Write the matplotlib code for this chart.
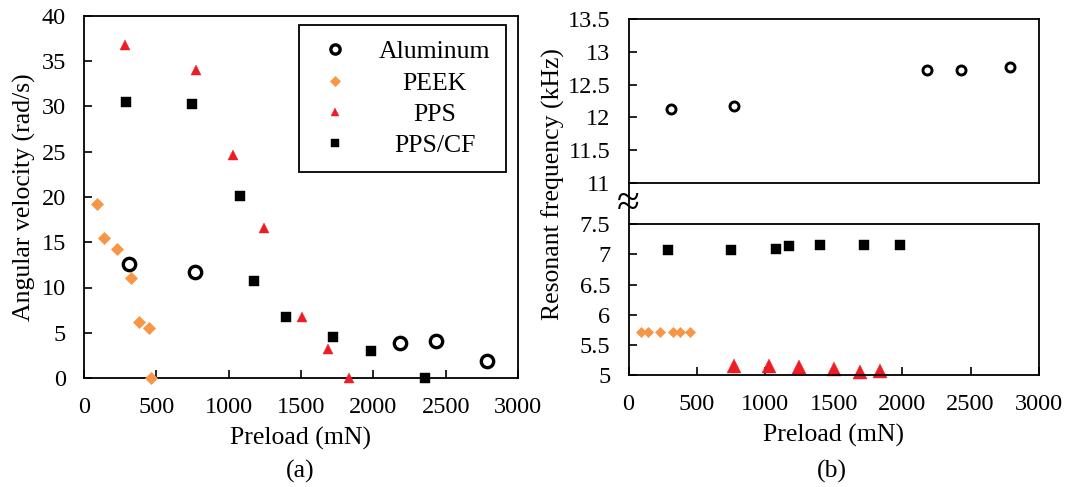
import matplotlib
matplotlib.use("Agg")
from matplotlib import pyplot as plt
from matplotlib.lines import Line2D
from matplotlib.ticker import FuncFormatter

al_preload = [310, 770, 2185, 2432, 2785]
al_velocity = [12.6, 11.7, 3.9, 4.05, 1.9]
al_freq = [12.13, 12.18, 12.72, 12.72, 12.77]

peek_preload = [90, 140, 228, 322, 380, 448, 463]
peek_velocity = [19.2, 15.5, 14.3, 11.0, 6.2, 5.5, 0.0]
peek_freq = [5.71, 5.71, 5.71, 5.72, 5.72, 5.72]  # first 6 preloads

pps_preload = [283, 774, 1029, 1246, 1505, 1690, 1835]
pps_velocity = [36.8, 34.0, 24.6, 16.6, 6.7, 3.2, 0.0]
pps_freq = [5.155, 5.155, 5.135, 5.10, 5.055, 5.06]  # last 6 preloads

ppscf_preload = [292, 747, 1078, 1172, 1397, 1722, 1983, 2357]
ppscf_velocity = [30.5, 30.3, 20.1, 10.7, 6.7, 4.5, 3.0, 0.0]
ppscf_freq = [7.07, 7.07, 7.09, 7.14, 7.16, 7.16, 7.16]  # first 7 preloads

ORANGE = "#F79646"
RED = "#EE1C25"

plt.rcParams["font.family"] = ["Liberation Serif", "DejaVu Serif"]
plt.rcParams["axes.linewidth"] = 1.3

W, H = 1070, 487
fig = plt.figure(figsize=(W / 100, H / 100), dpi=100)


def box(l, t, r, b):
    return [l / W, 1 - b / H, (r - l) / W, (b - t) / H]


axL = fig.add_axes(box(84, 16, 518, 378))
axT = fig.add_axes(box(628.5, 19, 1039, 183))
axB = fig.add_axes(box(628.5, 224.3, 1039, 375))

tick_kw = dict(direction="in", length=6, width=1.2, labelsize=17.5)

# ---- (a) angular velocity ----
axL.plot(al_preload, al_velocity, "o", ms=8.9, mew=2.4, mfc="none", mec="black",
         label="Aluminum", clip_on=False, zorder=4)
axL.plot(peek_preload, peek_velocity, "D", ms=6.4, mew=0.5, color=ORANGE,
         label="PEEK", clip_on=False, zorder=3)
axL.plot(pps_preload, pps_velocity, "^", ms=7.4, mew=0.3, color=RED,
         label="PPS", clip_on=False, zorder=3)
axL.plot(ppscf_preload, ppscf_velocity, "s", ms=7.4, mew=0.3, color="black",
         label="PPS/CF", clip_on=False, zorder=3)

axL.set_xlim(0, 3000)
axL.set_ylim(0, 40)
axL.set_xticks(range(0, 3001, 500))
axL.set_yticks(range(0, 41, 5))
axL.tick_params(**tick_kw)
axL.tick_params(axis="x", pad=14)
axL.tick_params(axis="y", pad=13)
axL.set_xlabel("Preload (mN)", fontsize=18.5, labelpad=6)
axL.set_ylabel("Angular velocity (rad/s)", fontsize=18.5, labelpad=4)

leg = axL.legend(loc="upper right", bbox_to_anchor=(0.972, 0.975), borderaxespad=0,
                 fontsize=18.5, markerscale=0.75, handlelength=1.6, handletextpad=0.9,
                 labelspacing=0.32, borderpad=0.6, fancybox=False, edgecolor="black",
                 framealpha=1)
leg.get_frame().set_linewidth(1.3)

# ---- (b) resonant frequency, broken y axis ----
axT.plot(al_preload, al_freq, "o", ms=6.5, mew=2.1, mfc="none", mec="black")
axT.set_xlim(0, 3000)
axT.set_ylim(11, 13.5)
axT.set_yticks([11, 11.5, 12, 12.5, 13, 13.5])
axT.set_xticks([])
axT.tick_params(**tick_kw)
axT.tick_params(axis="y", pad=13)

axB.plot(ppscf_preload[:7], ppscf_freq, "s", ms=7.9, mew=0.3, color="black", clip_on=False)
axB.plot(peek_preload[:6], peek_freq, "D", ms=5.2, mew=0.5, color=ORANGE, clip_on=False)
axB.plot(pps_preload[1:], pps_freq, "^", ms=9.6, mew=0.3, color=RED, clip_on=False)
axB.set_xlim(0, 3000)
axB.set_ylim(5, 7.5)
axB.set_xticks(range(0, 3001, 500))
axB.set_yticks([5, 5.5, 6, 6.5, 7, 7.5])
axB.tick_params(**tick_kw)
axB.tick_params(axis="x", pad=14)
axB.tick_params(axis="y", pad=13)
axB.set_xlabel("Preload (mN)", fontsize=18.5, labelpad=6)

fmt = FuncFormatter(lambda v, p: "%g" % v)
axT.yaxis.set_major_formatter(fmt)
axB.yaxis.set_major_formatter(fmt)

# left spine across the gap plus the break mark
x0 = 628.5 / W
fig.add_artist(Line2D([x0, x0], [1 - 183 / H, 1 - 224.3 / H], color="black", lw=1.3))
fig.text(x0, 1 - 205 / H, "≈", fontsize=30, ha="center", va="center")

fig.text(553 / W, 1 - 184 / H, "Resonant frequency (kHz)", fontsize=18.5,
         rotation=90, ha="center", va="center")

fig.text(300 / W, 1 - 471 / H, "(a)", fontsize=18.5, ha="center", va="center")
fig.text(832 / W, 1 - 471 / H, "(b)", fontsize=18.5, ha="center", va="center")

# centre the legend labels like the original
fig.canvas.draw()
renderer = fig.canvas.get_renderer()
texts = leg.get_texts()
widths = [t.get_window_extent(renderer).width for t in texts]
wmax = max(widths)
for t, w in zip(texts, widths):
    t.set_x((wmax - w) / 2)

fig.savefig("out.png", dpi=100)
